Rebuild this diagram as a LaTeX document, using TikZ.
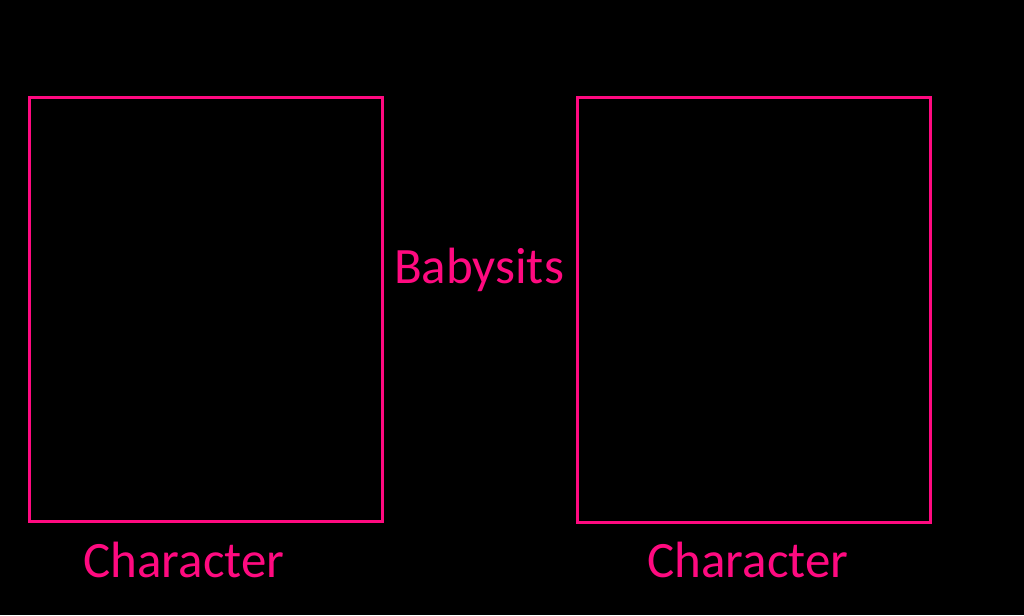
\documentclass[tikz,border=0pt]{standalone}
\usepackage{fontspec}
\setmainfont{Carlito}
\definecolor{hot}{HTML}{FF0A80}
\begin{document}
\begin{tikzpicture}[x=1pt,y=-1pt,
  box/.style={draw=hot,line width=3pt},
  lab/.style={text=hot,font=\fontsize{51}{60}\selectfont,inner sep=0}]
\fill[black] (0,0) rectangle (1024,615);
\useasboundingbox (0,0) rectangle (1024,615);
\draw[box] (29,98) rectangle (382,521);
\draw[box] (577,98) rectangle (930,522);
\node[lab] (b) at (479,270) {Babysits};
\node[lab] (c1) at (184,560) {Character};
\node[lab] (c2) at (748,560) {Character};
\end{tikzpicture}
\end{document}
